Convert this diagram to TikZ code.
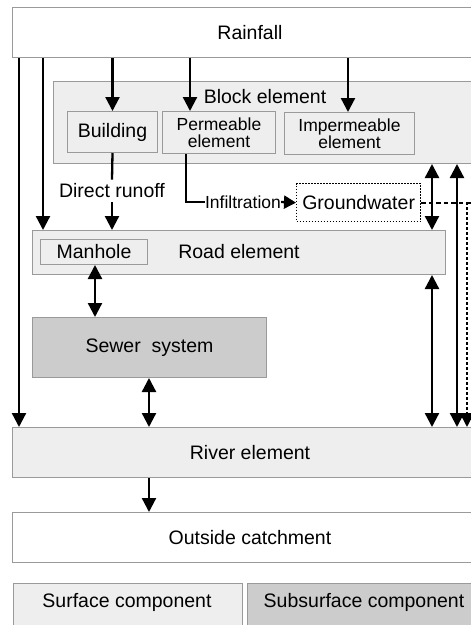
\documentclass[tikz,border=0pt]{standalone}
\usepackage{fontspec}
\setmainfont{Liberation Sans}
\usetikzlibrary{arrows.meta}
\definecolor{lightg}{HTML}{EEEEEE}
\definecolor{darkg}{HTML}{CCCCCC}
\definecolor{edgeg}{HTML}{9A9A9A}
\begin{document}
\begin{tikzpicture}[x=1pt,y=-1pt,
  font=\fontsize{19.5}{22}\selectfont,
  bx/.style={draw=edgeg, line width=1pt, anchor=north west, inner sep=0pt, align=center},
  surf/.style={bx, fill=lightg},
  subs/.style={bx, fill=darkg},
  wht/.style={bx, fill=white},
  small/.style={font=\fontsize{17.5}{17.5}\selectfont},
  ln/.style={line width=2.3pt},
  tip/.style={-{Triangle[length=14pt,width=14pt]}},
  arr/.style={ln, tip},
  darr/.style={ln, {Triangle[length=14pt,width=14pt]}-{Triangle[length=14pt,width=14pt]}},
  lbl/.style={inner sep=0pt},
]
\useasboundingbox (0,0) rectangle (471,625);
\clip (0,0) rectangle (471,625);

% boxes
\node[wht, minimum width=475pt, minimum height=50pt] (rain) at (12,7) {Rainfall};
\node[surf, minimum width=435pt, minimum height=82pt] (block) at (53,81) {};
\node[lbl] (blocklbl) at (265,97) {Block element};
\node[surf, minimum width=90pt, minimum height=41pt] (building) at (67,111) {Building};
\node[surf, small, minimum width=113pt, minimum height=42pt] (perm) at (162,111) {Permeable\\element};
\node[surf, small, minimum width=130pt, minimum height=42pt] (imperm) at (284,112) {Impermeable\\element};
\node[wht, draw=black, dash pattern=on 1.5pt off 1.5pt, line width=1.3pt, minimum width=124pt, minimum height=38pt] (gw) at (296,183) {Groundwater};
\node[surf, minimum width=413pt, minimum height=44pt] (road) at (32,230) {};
\node[lbl] (roadlbl) at (239,252) {Road element};
\node[surf, minimum width=107pt, minimum height=25pt] (manhole) at (40,239) {Manhole};
\node[subs, minimum width=234pt, minimum height=60pt] (sewer) at (32,317) {Sewer\ \ system};
\node[surf, minimum width=475pt, minimum height=50pt] (river) at (12,427) {River element};
\node[wht, minimum width=475pt, minimum height=50pt] (outside) at (12,512) {Outside catchment};
\node[surf, minimum width=229pt, minimum height=50pt] (legs) at (13,583) {};
\node[subs, minimum width=240pt, minimum height=50pt] (legu) at (247,583) {};
\node[lbl] (legstxt) at (127,602) {Surface component};
\node[lbl] (legutxt) at (364,602) {Subsurface component};

% helper x-positions
\coordinate (c19) at (19,0);
\coordinate (c43) at (43,0);
\coordinate (c190) at (190,0);
\coordinate (c348) at (348,0);
\coordinate (c186) at (186,0);
\coordinate (c432) at (432,0);
\coordinate (c457) at (457,0);
\coordinate (c95) at (95,0);
\coordinate (c149) at (149,0);
\coordinate (gwend) at (467,202);

% rainfall arrows
\draw[arr] (c19 |- rain.south) -- (c19 |- river.north);
\draw[arr] (c43 |- rain.south) -- (c43 |- road.north);
\draw[arr] (rain.south -| building.north) -- (building.north);
\draw[arr] (c190 |- rain.south) -- (c190 |- perm.north);
\draw[arr] (c348 |- rain.south) -- (c348 |- imperm.north);

% direct runoff
\node[lbl, inner ysep=4pt] (runoff) at (112,191) {Direct runoff};
\draw[ln] (building.south) -- (runoff.north);
\draw[arr] (runoff.south) -- (runoff.south |- road.north);

% infiltration
\node[lbl, font=\fontsize{17.5}{17.5}\selectfont] (infl) at (243,202) {Infiltration};
\draw[ln] (c186 |- perm.south) |- (infl.west);
\draw[ln, -{Triangle[length=12pt,width=13pt]}] (infl.east) -- (gw.west);

% exchanges
\draw[darr] (c432 |- block.south) -- (c432 |- road.north);
\draw[darr] (c457 |- block.south) -- (c457 |- river.north);
\draw[darr] (c432 |- road.south) -- (c432 |- river.north);
\draw[ln, dash pattern=on 4.5pt off 3pt] (gw.east) -- ++(60,0);
\draw[line width=2pt, dash pattern=on 3pt off 2pt, tip] (gwend) -- (gwend |- river.north);
\draw[darr] (c95 |- manhole.south) -- (c95 |- sewer.north);
\draw[darr] (c149 |- sewer.south) -- (c149 |- river.north);
\draw[arr] (c149 |- river.south) -- (c149 |- outside.north);
\end{tikzpicture}
\end{document}
